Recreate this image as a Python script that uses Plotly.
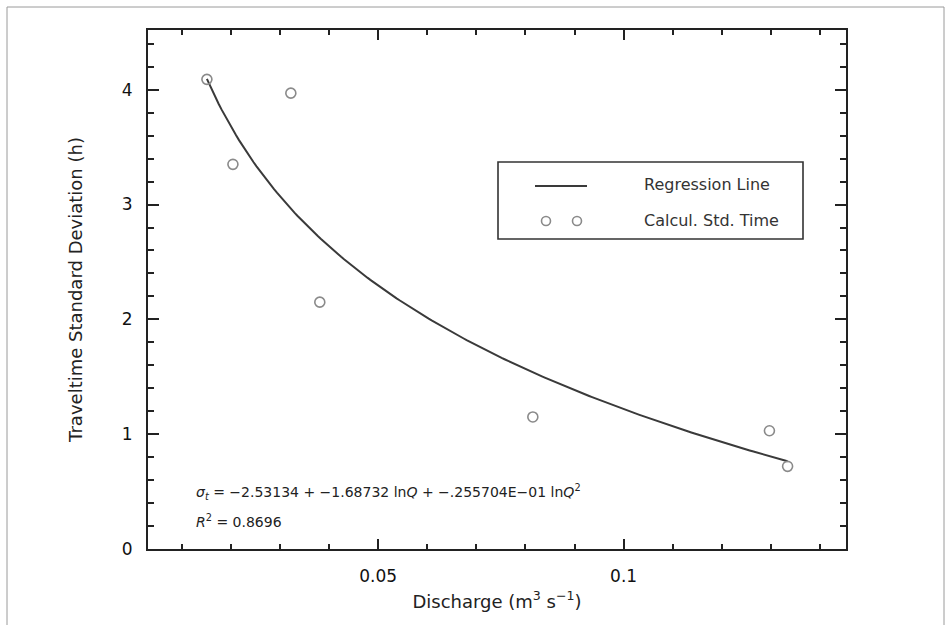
import numpy as np
import plotly.graph_objects as go

# Data
discharge = [0.0151, 0.0204, 0.0322, 0.0381, 0.0815, 0.1297, 0.1334]
std_time = [4.09, 3.35, 3.97, 2.15, 1.15, 1.03, 0.72]

# Regression coefficients as printed on the chart
coef_a = -2.53134
coef_b = -1.68732
coef_c = -0.0255704
r_squared = 0.8696

x_ticks = [0.05, 0.1]
x_tick_labels = ["0.05", "0.1"]
y_ticks = [0, 1, 2, 3, 4]

q_line = np.linspace(min(discharge), max(discharge), 200)
lnq = np.log(q_line)
sigma_line = coef_a + coef_b * lnq + coef_c * lnq ** 2

W, H = 951, 625
L, R, T, B = 148, 846, 30, 549
pw, ph = R - L, B - T


def px(x):
    return (x - L) / pw


def py(y):
    return (B - y) / ph


FONT = "DejaVu Sans"

fig = go.Figure()
fig.add_trace(go.Scatter(x=q_line, y=sigma_line, mode="lines",
                         line=dict(color="#3a3a3a", width=2), showlegend=False))
fig.add_trace(go.Scatter(x=discharge, y=std_time, mode="markers",
                         marker=dict(symbol="circle-open", size=10, color="#8a8a8a",
                                     line=dict(width=1.6, color="#8a8a8a")),
                         showlegend=False))

shapes = []
# outer border
shapes.append(dict(type="rect", xref="paper", yref="paper",
                   x0=px(7), x1=px(944), y0=py(632), y1=py(7),
                   line=dict(color="#9a9a9a", width=1)))
# legend box
shapes.append(dict(type="rect", xref="paper", yref="paper",
                   x0=px(498), x1=px(803), y0=py(239), y1=py(162),
                   line=dict(color="#333333", width=1.6), fillcolor="white"))
shapes.append(dict(type="line", xref="paper", yref="paper",
                   x0=px(535), x1=px(587), y0=py(186), y1=py(186),
                   line=dict(color="#3a3a3a", width=2)))
for cx in (546, 577):
    shapes.append(dict(type="circle", xref="paper", yref="paper",
                       x0=px(cx - 4.5), x1=px(cx + 4.5), y0=py(221 + 4.5), y1=py(221 - 4.5),
                       line=dict(color="#8a8a8a", width=1.6)))

annotations = [
    dict(text="Regression Line", xref="paper", yref="paper", x=px(642), y=py(184),
         xanchor="left", yanchor="middle", showarrow=False,
         font=dict(family=FONT, size=16, color="#333333")),
    dict(text="Calcul. Std. Time", xref="paper", yref="paper", x=px(642), y=py(220),
         xanchor="left", yanchor="middle", showarrow=False,
         font=dict(family=FONT, size=16, color="#333333")),
    dict(text=("<i>σ</i><sub><i>t</i></sub> = −%.5f + −%.5f ln<i>Q</i> + −.255704E−01 ln<i>Q</i><sup>2</sup>"
               % (abs(coef_a), abs(coef_b))),
         xref="paper", yref="paper", x=px(194), y=py(492),
         xanchor="left", yanchor="middle", showarrow=False,
         font=dict(family=FONT, size=14, color="#222222")),
    dict(text="<i>R</i><sup>2</sup> = %.4f" % r_squared,
         xref="paper", yref="paper", x=px(194), y=py(521),
         xanchor="left", yanchor="middle", showarrow=False,
         font=dict(family=FONT, size=14, color="#222222")),
]

fig.update_layout(
    width=W, height=H,
    margin=dict(l=L, r=W - R, t=T, b=H - B),
    paper_bgcolor="white", plot_bgcolor="white",
    shapes=shapes, annotations=annotations,
    showlegend=False,
    font=dict(family=FONT, color="#222222"),
)
fig.update_xaxes(
    range=[0.0031, 0.1453], tickvals=x_ticks, ticktext=x_tick_labels,
    ticks="inside", ticklen=10, tickwidth=1.5, tickcolor="#222222",
    minor=dict(tick0=0, dtick=0.01, ticks="inside", ticklen=5, tickwidth=1.5, tickcolor="#222222"),
    showline=True, linecolor="#222222", linewidth=2, mirror="ticks",
    showgrid=False, zeroline=False,
    tickfont=dict(family=FONT, size=17, color="#111111"), ticklabelstandoff=11,
    title=dict(text="Discharge (m<sup>3</sup> s<sup>−1</sup>)",
               font=dict(family=FONT, size=18, color="#222222"), standoff=10),
)
fig.update_yaxes(
    range=[0, 4.52], tickvals=y_ticks,
    ticks="inside", ticklen=11, tickwidth=1.5, tickcolor="#222222",
    minor=dict(tick0=0, dtick=0.2, ticks="inside", ticklen=6, tickwidth=1.5, tickcolor="#222222"),
    showline=True, linecolor="#222222", linewidth=2, mirror="ticks",
    showgrid=False, zeroline=False,
    tickfont=dict(family=FONT, size=17, color="#111111"), ticklabelstandoff=10,
    title=dict(text="Traveltime Standard Deviation (h)",
               font=dict(family=FONT, size=18, color="#222222"), standoff=34),
)

fig.write_html("out.html")
